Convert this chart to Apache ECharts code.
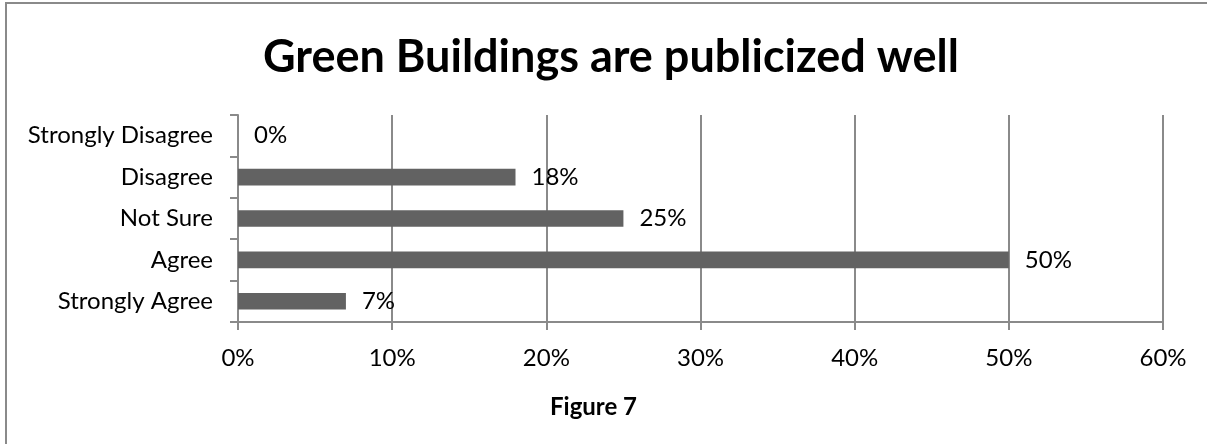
<!DOCTYPE html>
<html>
<head>
<meta charset="utf-8">
<script src="https://cdn.jsdelivr.net/npm/echarts@6/dist/echarts.min.js"></script>
<style>
  html, body { margin: 0; padding: 0; background: #fff; }
  #chart { width: 1207px; height: 444px; }
</style>
</head>
<body>
<div id="chart"></div>
<script>
// Survey responses, listed bottom to top as they appear on the category axis
const categories = ['Strongly Agree', 'Agree', 'Not Sure', 'Disagree', 'Strongly Disagree'];
const shares = [7, 50, 25, 18, 0];
const axisTicks = [0, 10, 20, 30, 40, 50, 60];

const titleText = 'Green Buildings are publicized well';
const captionText = 'Figure 7';

const FONT = 'Lato';
const GRID_GRAY = '#8a8a8a';

const chart = echarts.init(document.getElementById('chart'), null, { renderer: 'canvas' });

chart.setOption({
  animation: false,
  backgroundColor: '#ffffff',
  title: {
    text: titleText,
    left: 258,
    top: 30,
    textStyle: { fontFamily: FONT, fontWeight: 'bold', fontSize: 45, color: '#000' }
  },
  grid: { left: 238, right: 44, top: 115, bottom: 122, containLabel: false },
  xAxis: {
    type: 'value',
    min: axisTicks[0],
    max: axisTicks[axisTicks.length - 1],
    interval: 10,
    axisLine: { show: true, lineStyle: { color: GRID_GRAY, width: 2 } },
    axisTick: { show: true, length: 8, lineStyle: { color: GRID_GRAY, width: 2 } },
    splitLine: { show: true, lineStyle: { color: GRID_GRAY, width: 2 } },
    axisLabel: {
      margin: 24,
      fontFamily: FONT, fontSize: 24, color: '#000',
      formatter: v => v + '%'
    }
  },
  yAxis: {
    type: 'category',
    data: categories,
    axisLine: { show: true, lineStyle: { color: GRID_GRAY, width: 2 } },
    axisTick: { show: true, length: 8, lineStyle: { color: GRID_GRAY, width: 2 } },
    axisLabel: { margin: 25, fontFamily: FONT, fontSize: 24, color: '#000' }
  },
  series: [{
    type: 'bar',
    data: shares,
    barWidth: '40%',
    itemStyle: { color: '#626262' },
    label: {
      show: true,
      position: 'right',
      distance: 16,
      fontFamily: FONT, fontSize: 24, color: '#000',
      formatter: p => p.value + '%'
    }
  }],
  graphic: [
    // frame edges (top and left)
    { type: 'line', shape: { x1: 5, y1: 3, x2: 1207, y2: 3 }, style: { stroke: '#8a8a8a', lineWidth: 2 } },
    { type: 'line', shape: { x1: 6, y1: 3, x2: 6, y2: 444 }, style: { stroke: '#8a8a8a', lineWidth: 2 } },
    {
      type: 'text', left: 550, top: 395,
      style: { text: captionText, font: 'bold 24px ' + FONT, fill: '#000' }
    }
  ]
});
</script>
</body>
</html>
